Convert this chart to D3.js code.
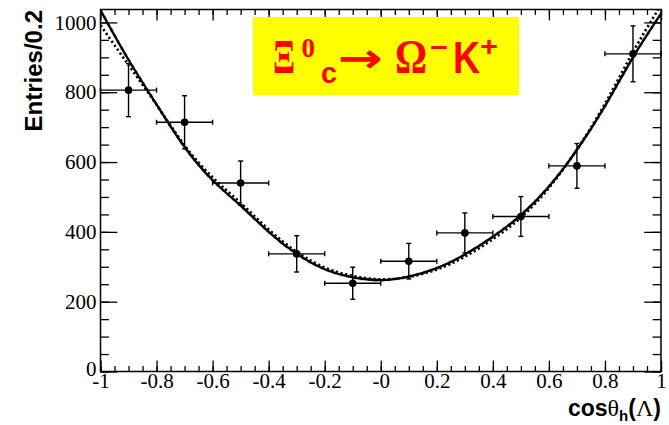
<!DOCTYPE html>
<html>
<head>
<meta charset="utf-8">
<script src="https://cdn.jsdelivr.net/npm/d3@7/dist/d3.min.js"></script>
<style>
  html, body { margin: 0; padding: 0; background: #ffffff; }
  svg { display: block; }
  .serif { font-family: "Liberation Serif", "Times New Roman", "DejaVu Serif", serif; }
  .sans { font-family: "Liberation Sans", Arial, "DejaVu Sans", sans-serif; }
</style>
</head>
<body>
<svg id="chart" width="669" height="425"></svg>
<script>
// ---------------- data ----------------
const binCenters = [-0.9, -0.7, -0.5, -0.3, -0.1, 0.1, 0.3, 0.5, 0.7, 0.9];
const entries    = [806, 714, 540, 337, 253, 316, 397, 444, 589, 910];
const entryErrs  = [76, 76, 63, 52, 46, 51, 57, 57, 64, 80];
const binHalfWidth = 0.1;

const curveX      = [-1.0,-0.9,-0.8,-0.7,-0.6,-0.5,-0.4,-0.3,-0.2,-0.1,0.0,0.1,0.2,0.3,0.4,0.5,0.6,0.7,0.8,0.9,1.0];
const fitSolid    = [1035,893,765,643,548,475,400,337,293,270,262,272,296,335,386,448,530,635,760,900,1025];
const fitDotted   = [992,878,764,648,556,483,407,343,298,274,264,271,292,329,379,441,526,636,767,915,1050];

const xTickValues = [-1,-0.8,-0.6,-0.4,-0.2,0,0.2,0.4,0.6,0.8,1];
const xTickLabels = ["-1","-0.8","-0.6","-0.4","-0.2","-0","0.2","0.4","0.6","0.8","1"];
const yTickValues = [0,200,400,600,800,1000];
const yTickLabels = ["0","200","400","600","800","1000"];

// ---------------- layout ----------------
const svg = d3.select("#chart");
const L = 100.5, R = 661, T = 9.5, B = 371.5;
const x = d3.scaleLinear().domain([-1, 1]).range([L, R]);
const y = d3.scaleLinear().domain([0, 1037]).range([B, T]);

const serif = '"Liberation Serif", "Times New Roman", "DejaVu Serif", serif';
const sans = '"Liberation Sans", Arial, "DejaVu Sans", sans-serif';

svg.append("defs").append("clipPath").attr("id", "plotclip")
  .append("rect").attr("x", L).attr("y", T).attr("width", R - L).attr("height", B - T);

const xMinor = d3.range(-1, 1.0001, 0.05).map(v => +v.toFixed(2));
const yMinor = d3.range(0, 1037, 50);

const majX = 10.9, minX = 5.4, majY = 16.8, minY = 8.4;

function styleAxis(g) {
  g.select(".domain").remove();
  g.selectAll(".tick line").attr("stroke", "#000").attr("stroke-width", 1.3);
}

// bottom axis
const gxMinor = svg.append("g").attr("transform", `translate(0,${B})`)
  .call(d3.axisBottom(x).tickValues(xMinor).tickSize(-minX).tickFormat(""));
styleAxis(gxMinor);
const gx = svg.append("g").attr("transform", `translate(0,${B})`)
  .call(d3.axisBottom(x).tickValues(xTickValues).tickSize(-majX).tickPadding(2)
    .tickFormat((d, i) => xTickLabels[i]));
styleAxis(gx);
gx.attr("font-family", null).attr("font-size", null);
gx.selectAll("text").style("font-family", serif).style("font-size", "21px").attr("fill", "#000");

// top axis (ticks only)
const gxt = svg.append("g").attr("transform", `translate(0,${T})`)
  .call(d3.axisTop(x).tickValues(xMinor).tickSize(-minX).tickFormat(""));
styleAxis(gxt);
const gxt2 = svg.append("g").attr("transform", `translate(0,${T})`)
  .call(d3.axisTop(x).tickValues(xTickValues).tickSize(-majX).tickFormat(""));
styleAxis(gxt2);

// left axis
const gyMinor = svg.append("g").attr("transform", `translate(${L},0)`)
  .call(d3.axisLeft(y).tickValues(yMinor).tickSize(-minY).tickFormat(""));
styleAxis(gyMinor);
const gy = svg.append("g").attr("transform", `translate(${L},0)`)
  .call(d3.axisLeft(y).tickValues(yTickValues).tickSize(-majY).tickPadding(4)
    .tickFormat((d, i) => yTickLabels[i]));
styleAxis(gy);
gy.attr("font-family", null).attr("font-size", null);
gy.selectAll("text").style("font-family", serif).style("font-size", "21px").attr("fill", "#000");
gy.selectAll(".tick").filter(d => d === 0).select("text").attr("dy", "0.2em");

// right axis (ticks only)
const gyr = svg.append("g").attr("transform", `translate(${R},0)`)
  .call(d3.axisRight(y).tickValues(yMinor).tickSize(-minY).tickFormat(""));
styleAxis(gyr);
const gyr2 = svg.append("g").attr("transform", `translate(${R},0)`)
  .call(d3.axisRight(y).tickValues(yTickValues).tickSize(-majY).tickFormat(""));
styleAxis(gyr2);

// frame
svg.append("rect").attr("x", L).attr("y", T).attr("width", R - L).attr("height", B - T)
  .attr("fill", "none").attr("stroke", "#000").attr("stroke-width", 1.5);

// ---------------- curves ----------------
const curveData = (vals) => curveX.map((v, i) => [v, vals[i]]);
const line = d3.line().x(d => x(d[0])).y(d => y(d[1])).curve(d3.curveNatural);

const cg = svg.append("g").attr("clip-path", "url(#plotclip)");
cg.append("path").datum(curveData(fitDotted)).attr("d", line)
  .attr("fill", "none").attr("stroke", "#000").attr("stroke-width", 2.6)
  .attr("stroke-dasharray", "2.2,2.6");
cg.append("path").datum(curveData(fitSolid)).attr("d", line)
  .attr("fill", "none").attr("stroke", "#d02020").attr("stroke-width", 3.2)
  .attr("stroke-dasharray", "3,4").attr("opacity", 0.55);
cg.append("path").datum(curveData(fitSolid)).attr("d", line)
  .attr("fill", "none").attr("stroke", "#000").attr("stroke-width", 2.3);

// ---------------- data points ----------------
const pts = binCenters.map((c, i) => ({ c, v: entries[i], e: entryErrs[i] }));
const pg = svg.append("g");
const cap = 2.5;
pts.forEach(p => {
  const g = pg.append("g").attr("stroke", "#000").attr("stroke-width", 1.4);
  const cx = x(p.c), cy = y(p.v);
  const x0 = x(p.c - binHalfWidth), x1 = x(p.c + binHalfWidth);
  const y0 = y(p.v - p.e), y1 = y(p.v + p.e);
  g.append("line").attr("x1", x0).attr("x2", x1).attr("y1", cy).attr("y2", cy);
  g.append("line").attr("x1", cx).attr("x2", cx).attr("y1", y0).attr("y2", y1);
  g.append("line").attr("x1", x0).attr("x2", x0).attr("y1", cy - cap).attr("y2", cy + cap);
  g.append("line").attr("x1", x1).attr("x2", x1).attr("y1", cy - cap).attr("y2", cy + cap);
  g.append("line").attr("x1", cx - cap).attr("x2", cx + cap).attr("y1", y0).attr("y2", y0);
  g.append("line").attr("x1", cx - cap).attr("x2", cx + cap).attr("y1", y1).attr("y2", y1);
  pg.append("circle").attr("cx", cx).attr("cy", cy).attr("r", 3.8).attr("fill", "#000");
});

// ---------------- titles ----------------
svg.append("text")
  .attr("transform", "translate(42,10) rotate(-90)")
  .attr("text-anchor", "end")
  .style("font-family", sans).attr("font-weight", "bold").attr("font-size", 24)
  .attr("fill", "#000")
  .text("Entries/0.2");

const xt = svg.append("text").attr("x", 661).attr("y", 416).attr("text-anchor", "end")
  .style("font-family", sans).attr("font-weight", "bold").attr("font-size", 23).attr("fill", "#000");
xt.append("tspan").text("cos");
xt.append("tspan").style("font-family", serif).attr("font-weight", "normal").attr("font-size", 24).text("θ");
xt.append("tspan").attr("font-size", 15).attr("dy", 5).text("h");
xt.append("tspan").attr("dy", -5).text("(");
xt.append("tspan").style("font-family", serif).attr("font-weight", "normal").attr("font-size", 24).text("Λ");
xt.append("tspan").text(")");

// ---------------- label box ----------------
svg.append("rect").attr("x", 253).attr("y", 17).attr("width", 266).attr("height", 78).attr("fill", "#ffff00");
const red = "#ff0000";
const lbl = svg.append("text").attr("fill", red).attr("font-weight", "bold");
function part(txt, gx, gy, fam, size, len) {
  const t = lbl.append("tspan").attr("x", gx).attr("y", gy).style("font-family", fam)
    .attr("font-size", size).text(txt);
  if (len) t.attr("textLength", len).attr("lengthAdjust", "spacingAndGlyphs");
  return t;
}
part("Ξ", 273, 73.3, serif, 48, 22);
part("0", 301.5, 56.7, serif, 28, 13.5);
part("c", 321, 83.3, sans, 30, 16);
part("→", 338, 72, '"DejaVu Sans", sans-serif', 40, 45);
part("Ω", 395, 73.3, serif, 48, 32);
part("−", 430, 57, sans, 28, 18);
part("K", 453, 73.3, sans, 44, 27);
part("+", 480, 56, sans, 28, 18);
</script>
</body>
</html>
